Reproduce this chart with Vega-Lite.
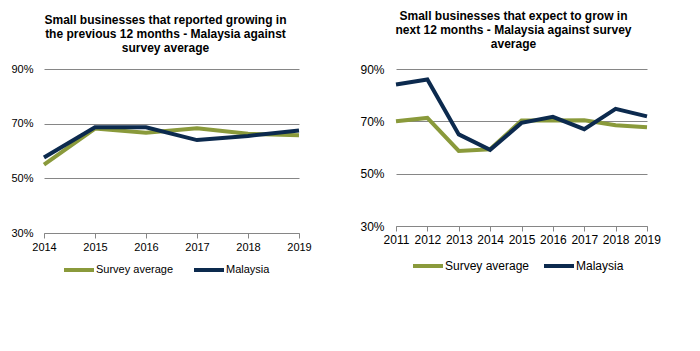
{
  "$schema": "https://vega.github.io/schema/vega-lite/v6.json",
  "background": "white",
  "padding": {"left": 10, "top": 10, "right": 5, "bottom": 5},
  "config": {
    "view": {"stroke": null},
    "font": "Liberation Sans",
    "title": {"font": "Liberation Sans", "color": "#000000"},
    "axis": {"labelFont": "Liberation Sans", "labelColor": "#000000"},
    "legend": {"labelFont": "Liberation Sans", "labelColor": "#000000"}
  },
  "datasets": {
    "left": [
      {"year": 2014, "series": "Survey average", "value": 0.55},
      {"year": 2015, "series": "Survey average", "value": 0.682},
      {"year": 2016, "series": "Survey average", "value": 0.667},
      {"year": 2017, "series": "Survey average", "value": 0.683},
      {"year": 2018, "series": "Survey average", "value": 0.663},
      {"year": 2019, "series": "Survey average", "value": 0.658},
      {"year": 2014, "series": "Malaysia", "value": 0.576},
      {"year": 2015, "series": "Malaysia", "value": 0.687},
      {"year": 2016, "series": "Malaysia", "value": 0.687},
      {"year": 2017, "series": "Malaysia", "value": 0.64},
      {"year": 2018, "series": "Malaysia", "value": 0.655},
      {"year": 2019, "series": "Malaysia", "value": 0.675}
    ],
    "right": [
      {"year": 2011, "series": "Survey average", "value": 0.70},
      {"year": 2012, "series": "Survey average", "value": 0.713},
      {"year": 2013, "series": "Survey average", "value": 0.587},
      {"year": 2014, "series": "Survey average", "value": 0.593},
      {"year": 2015, "series": "Survey average", "value": 0.703},
      {"year": 2016, "series": "Survey average", "value": 0.703},
      {"year": 2017, "series": "Survey average", "value": 0.704},
      {"year": 2018, "series": "Survey average", "value": 0.685},
      {"year": 2019, "series": "Survey average", "value": 0.677},
      {"year": 2011, "series": "Malaysia", "value": 0.841},
      {"year": 2012, "series": "Malaysia", "value": 0.86},
      {"year": 2013, "series": "Malaysia", "value": 0.65},
      {"year": 2014, "series": "Malaysia", "value": 0.591},
      {"year": 2015, "series": "Malaysia", "value": 0.694},
      {"year": 2016, "series": "Malaysia", "value": 0.717},
      {"year": 2017, "series": "Malaysia", "value": 0.67},
      {"year": 2018, "series": "Malaysia", "value": 0.748},
      {"year": 2019, "series": "Malaysia", "value": 0.719}
    ]
  },
  "spacing": 47,
  "resolve": {"legend": {"color": "independent"}, "scale": {"color": "independent"}},
  "hconcat": [
    {
      "title": {
        "text": ["Small businesses that reported growing in", "the previous  12 months - Malaysia against", "survey average"],
        "anchor": "middle", "frame": "group", "fontSize": 12, "fontWeight": "bold", "lineHeight": 14, "offset": 8, "dx": -6
      },
      "width": 255,
      "height": 164,
      "data": {"name": "left"},
      "mark": {"type": "line", "strokeWidth": 4},
      "encoding": {
        "x": {
          "field": "year", "type": "quantitative",
          "scale": {"domain": [2014, 2019], "nice": false, "zero": false},
          "axis": {"values": [2014, 2015, 2016, 2017, 2018, 2019], "format": "d", "title": null, "grid": false, "tickSize": 5, "tickColor": "#868686", "domainColor": "#868686", "labelFontSize": 11, "labelPadding": 3, "labelFlush": false, "labelOverlap": false}
        },
        "y": {
          "field": "value", "type": "quantitative",
          "scale": {"domain": [0.3, 0.9], "nice": false, "zero": false},
          "axis": {"values": [0.3, 0.5, 0.7, 0.9], "format": ".0%", "title": null, "domain": false, "ticks": false, "tickSize": 0, "gridColor": "#868686", "labelFontSize": 11, "labelPadding": 11, "labelFlush": false}
        },
        "color": {
          "field": "series", "type": "nominal",
          "scale": {"domain": ["Survey average", "Malaysia"], "range": ["#8a9a3b", "#0c2a4e"]},
          "legend": {"title": null, "orient": "none", "legendX": 18, "legendY": 184, "direction": "horizontal", "symbolType": "stroke", "symbolStrokeWidth": 4, "symbolSize": 900, "labelFontSize": 11, "labelOffset": 0, "columnPadding": 12}
        }
      }
    },
    {
      "title": {
        "text": ["Small businesses that expect to grow in", "next 12 months - Malaysia against survey", "average"],
        "anchor": "middle", "frame": "group", "fontSize": 12, "fontWeight": "bold", "lineHeight": 14, "offset": 12, "dx": -8
      },
      "width": 251,
      "height": 157,
      "data": {"name": "right"},
      "mark": {"type": "line", "strokeWidth": 4},
      "encoding": {
        "x": {
          "field": "year", "type": "quantitative",
          "scale": {"domain": [2011, 2019], "nice": false, "zero": false},
          "axis": {"values": [2011, 2012, 2013, 2014, 2015, 2016, 2017, 2018, 2019], "format": "d", "title": null, "grid": false, "tickSize": 5, "tickColor": "#868686", "domainColor": "#868686", "labelFontSize": 12, "labelPadding": 3, "labelFlush": false, "labelOverlap": false}
        },
        "y": {
          "field": "value", "type": "quantitative",
          "scale": {"domain": [0.3, 0.9], "nice": false, "zero": false},
          "axis": {"values": [0.3, 0.5, 0.7, 0.9], "format": ".0%", "title": null, "domain": false, "ticks": false, "tickSize": 0, "gridColor": "#868686", "labelFontSize": 12, "labelPadding": 12, "labelFlush": false}
        },
        "color": {
          "field": "series", "type": "nominal",
          "scale": {"domain": ["Survey average", "Malaysia"], "range": ["#8a9a3b", "#0c2a4e"]},
          "legend": {"title": null, "orient": "none", "legendX": 15, "legendY": 180, "direction": "horizontal", "symbolType": "stroke", "symbolStrokeWidth": 4, "symbolSize": 900, "labelFontSize": 12, "labelOffset": 0, "columnPadding": 6}
        }
      }
    }
  ]
}
